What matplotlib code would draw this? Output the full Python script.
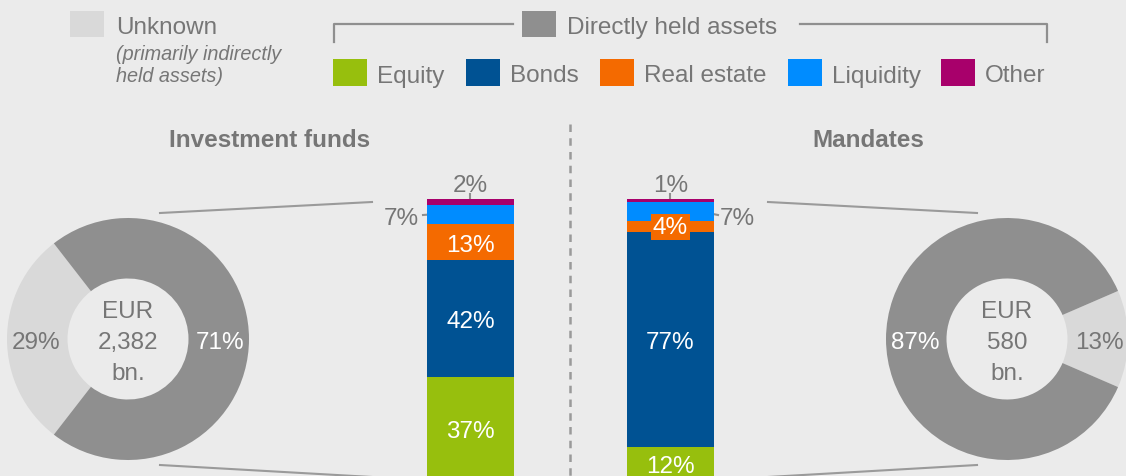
import matplotlib
matplotlib.use("Agg")
import matplotlib.pyplot as plt
from matplotlib.patches import Rectangle

plt.rcParams['font.family'] = ['Liberation Sans', 'DejaVu Sans']

# data
segments = ['Equity', 'Bonds', 'Real estate', 'Liquidity', 'Other']
funds_shares = [37, 42, 13, 7, 2]
mandates_shares = [12, 77, 4, 7, 1]
funds_direct = [71, 29]      # directly held, unknown
mandates_direct = [87, 13]
funds_total = '2,382'
mandates_total = '580'

seg_colors = ['#97bf0d', '#005293', '#f46a00', '#008cff', '#a8006b']
DARK = '#8f8f8f'
LIGHT = '#d9d9d9'
TXT = '#767676'
LINE = '#8f8f8f'
BG = '#ebebeb'
FS = 17.5
HALF_CAP = 0.358 * FS * 100 / 72   # px from cap centre down to baseline

W, H = 1126, 477
fig = plt.figure(figsize=(W / 100, H / 100), dpi=100, facecolor=BG)


def px_axes(x0, y0, w, h):
    ax = fig.add_axes([x0 / W, 1 - (y0 + h) / H, w / W, h / H])
    ax.set_facecolor('none')
    ax.axis('off')
    return ax


# overlay for layout lines and texts (pixel coords, y down)
ov = px_axes(0, 0, W, H)
ov.set_xlim(0, W)
ov.set_ylim(H, 0)

# legend
ov.add_patch(Rectangle((70, 12), 34, 26, color=LIGHT, lw=0))
ov.text(116, 34, 'Unknown', color=TXT, fontsize=FS, va='baseline')
ov.text(116, 60, '(primarily indirectly', color=TXT, fontsize=14.3,
        style='italic', va='baseline')
ov.text(116, 82, 'held assets)', color=TXT, fontsize=14.3,
        style='italic', va='baseline')
ov.plot([334, 334, 513], [43, 25, 25], color=LINE, lw=1.6)
ov.plot([800, 1047, 1047], [25, 25, 43], color=LINE, lw=1.6)
ov.add_patch(Rectangle((522, 12), 34, 26, color=DARK, lw=0))
ov.text(567, 34, 'Directly held assets', color=TXT, fontsize=FS,
        va='baseline')

leg_x = [333, 466, 600, 788, 941]
for x, name, c in zip(leg_x, segments, seg_colors):
    ov.add_patch(Rectangle((x, 60), 34, 27, color=c, lw=0))
    ov.text(x + 44, 82.5, name, color=TXT, fontsize=FS, va='baseline')

# titles and divider
ov.text(270, 147, 'Investment funds', color=TXT, fontsize=FS,
        fontweight='bold', ha='center', va='baseline')
ov.text(868, 147, 'Mandates', color=TXT, fontsize=FS,
        fontweight='bold', ha='center', va='baseline')
ov.plot([570, 570], [125, 477], color='#9a9a9a', lw=1.8, ls=(0, (3, 2.5)))

# connector lines
ov.plot([160, 372], [214, 203], color='#9a9a9a', lw=1.5)
ov.plot([160, 372], [466, 478], color='#9a9a9a', lw=1.5)
ov.plot([768, 977], [203, 214], color='#9a9a9a', lw=1.5)
ov.plot([768, 977], [478, 466], color='#9a9a9a', lw=1.5)

# leader ticks for small labels
ov.plot([470, 470], [195, 205], color=LINE, lw=1.5)
ov.plot([423, 437], [216, 215], color=LINE, lw=1.5)
ov.plot([670, 670], [195, 204], color=LINE, lw=1.5)
ov.plot([703, 718], [213, 216], color=LINE, lw=1.5)

BAR_PX = 281


def stacked_bar(x0, shares, outside, boxed):
    ax = px_axes(x0, 200, 87, BAR_PX)
    ax.set_xlim(-0.5, 0.5)
    ax.set_ylim(0, 101)
    drop = HALF_CAP * 101 / BAR_PX
    bottom = 0
    for i, (v, c) in enumerate(zip(shares, seg_colors)):
        ax.bar(0, v, bottom=bottom, width=1, color=c, lw=0)
        mid = bottom + v / 2
        if i in outside:
            x, y, ha = outside[i]
            ax.text(x, y - drop, f'{v}%', color=TXT, fontsize=FS,
                    ha=ha, va='baseline', clip_on=False)
        elif i in boxed:
            ax.text(0, mid, f'{v}%', color='white', fontsize=FS,
                    ha='center', va='center',
                    bbox=dict(boxstyle='square,pad=0.08', fc=c, ec='none'))
        else:
            ax.text(0, mid - drop, f'{v}%', color='white', fontsize=FS,
                    ha='center', va='baseline')
        bottom += v
    return ax


stacked_bar(427, funds_shares,
            {3: (-0.59, 95.3, 'right'), 4: (0, 107.1, 'center')}, [])
stacked_bar(627, mandates_shares,
            {3: (0.57, 95.3, 'left'), 4: (0, 107.1, 'center')}, [2])


def donut(cx, values, start, total, pct_colors):
    ax = px_axes(cx - 121, 340 - 121, 242, 242)
    drop = HALF_CAP / 121
    wedges, _, autotexts = ax.pie(
        values[::-1], colors=[LIGHT, DARK], startangle=start,
        counterclock=True, radius=1,
        wedgeprops=dict(width=0.5, lw=0),
        autopct=lambda p: f'{p:.0f}%', pctdistance=0.76)
    for t, c in zip(autotexts, pct_colors):
        x, y = t.get_position()
        t.set_position((x, y - drop))
        t.set_color(c)
        t.set_fontsize(FS)
        t.set_va('baseline')
    ax.set_xlim(-1, 1)
    ax.set_ylim(-1, 1)
    for dy, s in zip([0.252, 0, -0.256], ['EUR', total, 'bn.']):
        ax.text(0, dy - drop, s, color=TXT, fontsize=FS, ha='center',
                va='baseline')
    return ax


donut(128, funds_direct, 180 - funds_direct[1] * 1.8, funds_total,
      [TXT, 'white'])
donut(1007, mandates_direct, -mandates_direct[1] * 1.8, mandates_total,
      [TXT, 'white'])

fig.savefig('out.png', dpi=100, facecolor=BG)
